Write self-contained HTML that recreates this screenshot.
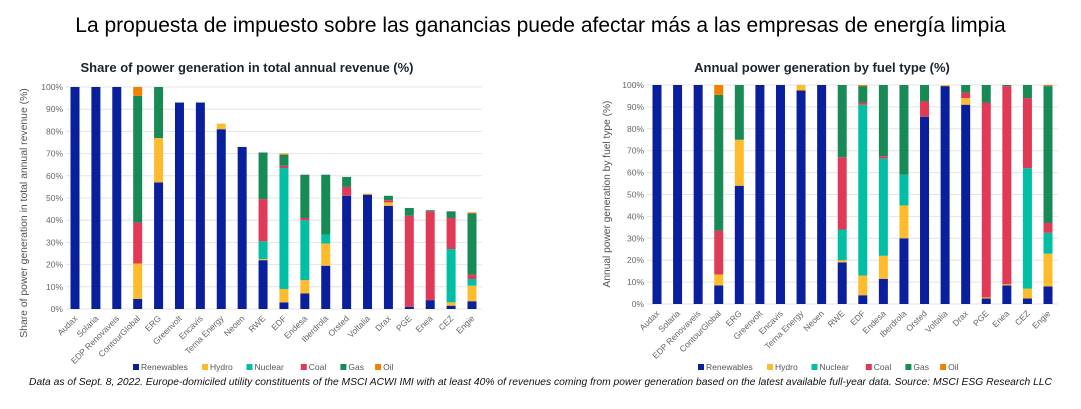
<!DOCTYPE html>
<html><head><meta charset="utf-8"><style>
body{margin:0;width:1081px;height:409px;background:#fff;overflow:hidden;font-family:"Liberation Sans",sans-serif}
#title{position:absolute;top:14px;left:0;width:1081px;text-align:center;font-size:21px;color:#000}
#note{position:absolute;top:377px;left:0;width:1081px;text-align:center;font-size:10.3px;font-style:italic;color:#111}
svg{position:absolute;top:0;left:0}
</style></head><body>
<div id="title">La propuesta de impuesto sobre las ganancias puede afectar más a las empresas de energía limpia</div>
<svg id="chart" width="1081" height="409"></svg>
<div id="note">Data as of Sept. 8, 2022. Europe-domiciled utility constituents of the MSCI ACWI IMI with at least 40% of revenues coming from power generation based on the latest available full-year data. Source: MSCI ESG Research LLC</div>
<script>
const categories=["Audax","Solaria","EDP Renovaveis","ContourGlobal","ERG","Greenvolt","Encavis","Terna Energy","Neoen","RWE","EDF","Endesa","Iberdrola","Orsted","Voltalia","Drax","PGE","Enea","CEZ","Engie"];
const seriesNames=["Renewables","Hydro","Nuclear","Coal","Gas","Oil"];
const yTicks=[0,10,20,30,40,50,60,70,80,90,100];
// left chart: share of revenue
const revRenewables=[100,100,100,4.5,57,93,93,81,73,22,3,7,19.5,51,51.5,46.5,1,4,1.5,3.5];
const revHydro=[0,0,0,16,20,0,0,2.5,0,0.5,6,6,10,0,0.5,1.5,0,0,1.5,7];
const revNuclear=[0,0,0,0,0,0,0,0,0,8,54.5,27,4,0,0,0,0,0,24,3];
const revCoal=[0,0,0,18.5,0,0,0,0,0,19,1,1,0,4,0,1,41,40,14,2];
const revGas=[0,0,0,57,23,0,0,0,0,21,5,19.5,27,4.5,0,2,3.5,0.5,3,27.5];
const revOil=[0,0,0,4,0,0,0,0,0,0,0.5,0,0,0,0,0,0,0,0,0.5];
// right chart: generation mix
const genRenewables=[100,100,100,8.5,54,100,100,97.5,100,19,4,11.5,30,85.5,99.5,91,2.5,8.5,2.5,8];
const genHydro=[0,0,0,5,21,0,0,2.5,0,1,9,10.5,15,0,0.5,3,0.5,0.5,4.5,15];
const genNuclear=[0,0,0,0,0,0,0,0,0,14,78,44.5,14,0,0,0,0,0,55,9.5];
const genCoal=[0,0,0,20,0,0,0,0,0,33,1,1,0,7,0,2.5,89,90.5,32,4.5];
const genGas=[0,0,0,62,25,0,0,0,0,33,7.5,32.5,41,7.5,0,3.5,8,0.5,6,62.5];
const genOil=[0,0,0,4.5,0,0,0,0,0,0,0.5,0,0,0,0,0,0,0,0,0.5];
const colors=["#0a1f9c","#fdbb2d","#00bfa5","#e03a56","#178a55","#f28000"];
const NS="http://www.w3.org/2000/svg";
const svg=document.getElementById('chart');
function mk(t,a,p){const e=document.createElementNS(NS,t);for(const k in a)e.setAttribute(k,a[k]);(p||svg).appendChild(e);return e;}
function chart(cfg,series){
  const g=mk('g',{});
  
  
  const y=v=>cfg.y0-(cfg.y0-cfg.y100)*v/100;
  const x=i=>cfg.x0+(cfg.x1-cfg.x0)*i/(categories.length-1);
  const t=mk('text',{x:cfg.tx,y:72,'text-anchor':'middle','font-size':13,'font-weight':'bold',fill:'#1a2330'},g);t.textContent=cfg.title;
  
  
  yTicks.forEach(v=>{
    const l=mk('line',{x1:cfg.gx0,x2:cfg.gx1,y1:y(v),y2:y(v),stroke:'#e4e4e4','stroke-width':1},g);
    
    
    const tl=mk('text',{x:cfg.gx0-3,y:y(v)+3,'text-anchor':'end','font-size':8.5,fill:'#666'},g);tl.textContent=v+'%';
    
    
  });
  const yt=mk('text',{transform:`translate(${cfg.ytx},${cfg.ytc}) rotate(-90)`,'text-anchor':'middle','font-size':cfg.ytfs,fill:'#555'},g);yt.textContent=cfg.ytitle;
  
  
  categories.forEach((c,i)=>{
    let acc=0;
    series.forEach((s,k)=>{
      const v=s[i];if(v<=0)return;
      const r=mk('rect',{x:x(i)-4.5,width:9,y:y(acc+v),height:y(acc)-y(acc+v),fill:colors[k]},g);
      
      
      acc+=v;
    });
    const lb=mk('text',{transform:`translate(${x(i)+3},${cfg.y0+10}) rotate(-45)`,'text-anchor':'end','font-size':8.5,fill:'#666'},g);lb.textContent=c;
    
    
  });
  let lx=cfg.lx;
  seriesNames.forEach((n,k)=>{
    const sw=mk('rect',{x:lx,y:364,width:6,height:6,fill:colors[k]},g);
    
    
    const lt=mk('text',{x:lx+8,y:370,'font-size':8.5,fill:'#555'},g);lt.textContent=n;
    
    
    lx+=14+n.length*4.9+6;
  });
}
chart({name:'revenue-share-chart',title:'Share of power generation in total annual revenue (%)',x0:75,x1:472,y0:309,y100:87,gx0:66,gx1:482,tx:247,ytx:27,ytc:213,ytfs:10.4,ytitle:'Share of power generation in total annual revenue (%)',lx:133},
 [revRenewables,revHydro,revNuclear,revCoal,revGas,revOil]);
chart({name:'generation-mix-chart',title:'Annual power generation by fuel type (%)',x0:657,x1:1048,y0:304,y100:85,gx0:647,gx1:1058,tx:822,ytx:610,ytc:194,ytfs:10.2,ytitle:'Annual power generation by fuel type (%)',lx:698},
 [genRenewables,genHydro,genNuclear,genCoal,genGas,genOil]);
</script>
</body></html>
